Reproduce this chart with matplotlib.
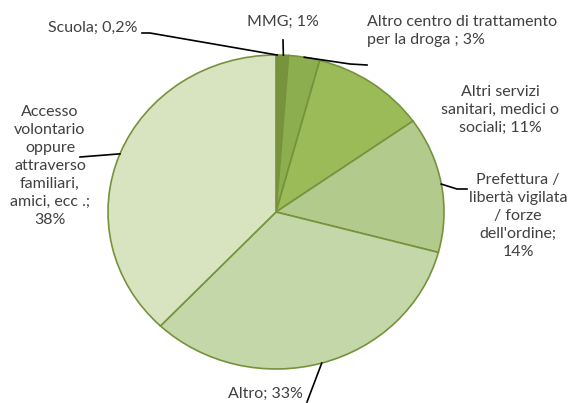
import matplotlib.pyplot as plt
import numpy as np

labels = ["Scuola; 0,2%", "MMG; 1%", "Altro centro di trattamento\nper la droga ; 3%",
          "Altri servizi\nsanitari, medici o\nsociali; 11%",
          "Prefettura /\nlibertà vigilata\n/ forze\ndell'ordine;\n14%",
          "Altro; 33%",
          "Accesso\nvolontario\noppure\nattraverso\nfamiliari,\namici, ecc .;\n38%"]
values = [0.2, 1, 3, 11, 14, 33, 38]
colors = ["#5E7A2E", "#77933C", "#8CAE4E", "#9BBB59", "#B2CB8C", "#C4D7A8", "#D8E4C0"]

W, H = 571, 403
cx, cy, rx, ry = 276, 212, 168, 157

def px(x, y):
    # pixel (from top-left) -> data coords
    return (x - cx) / rx, (cy - y) / ry

fig = plt.figure(figsize=(W / 100, H / 100), dpi=100)
ax = fig.add_axes([0, 0, 1, 1])
wedges, _ = ax.pie(values, colors=colors, startangle=90, counterclock=False,
                   wedgeprops=dict(edgecolor="#76923C", linewidth=1.2))
ax.set_aspect("auto")
ax.set_xlim(-cx / rx, (W - cx) / rx)
ax.set_ylim((cy - H) / ry, cy / ry)
ax.axis("off")

tc = "#404040"
font = dict(family="Lato", fontsize=11.5, color=tc, linespacing=1.36)

# label positions (pixels), alignment, leader path end points
layout = [
    ((93, 28), "center", [(150, 33), (142, 33)]),
    ((283, 22), "center", [(283, 40)]),
    ((367, 31), "left", [(350, 64), (367, 65)]),
    ((500, 110), "center", None),
    ((518, 216), "center", [(457, 189), (467, 189)]),
    ((265, 394), "center", [(307, 402)]),
    ((50, 166), "center", [(80, 157)]),
]

for w, lab, (pos, ha, path) in zip(wedges, labels, layout):
    x, y = px(*pos)
    ax.text(x, y, lab, ha=ha, va="center", **font)
    if path:
        a = np.deg2rad((w.theta1 + w.theta2) / 2)
        xs = [np.cos(a)] + [px(*p)[0] for p in path]
        ys = [np.sin(a)] + [px(*p)[1] for p in path]
        ax.plot(xs, ys, color="black", lw=1.2, clip_on=False)

fig.savefig("out.png", dpi=100)
